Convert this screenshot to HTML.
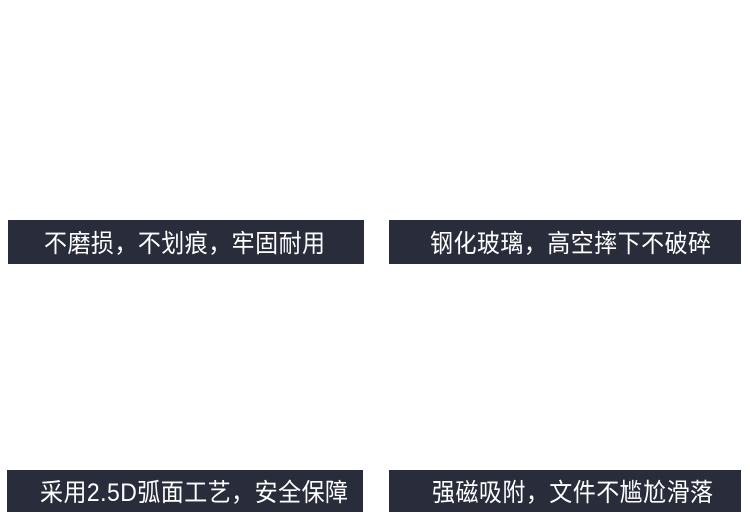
<!DOCTYPE html>
<html><head><meta charset="utf-8"><style>
body{margin:0;width:750px;height:522px;background:#fff;position:relative;overflow:hidden}
.b{position:absolute;background:#282c3b;color:#fff;font-family:"Liberation Sans","Noto Sans CJK SC",sans-serif;font-size:25px;white-space:nowrap;box-sizing:border-box;display:flex;align-items:center}
.b span{display:inline-block;transform:scaleX(0.92);transform-origin:left center;letter-spacing:0.5px}
</style></head><body>
<div class="b" style="left:8px;top:220px;width:356px;height:44px;padding-left:36px"><span>不磨损，不划痕，牢固耐用</span></div>
<div class="b" style="left:389px;top:220px;width:352px;height:44px;padding-left:41px"><span>钢化玻璃，高空摔下不破碎</span></div>
<div class="b" style="left:7px;top:470px;width:356px;height:42px;padding-left:33px"><span>采用2.5D弧面工艺，安全保障</span></div>
<div class="b" style="left:389px;top:470px;width:352px;height:42px;padding-left:43px"><span>强磁吸附，文件不尴尬滑落</span></div>
</body></html>
